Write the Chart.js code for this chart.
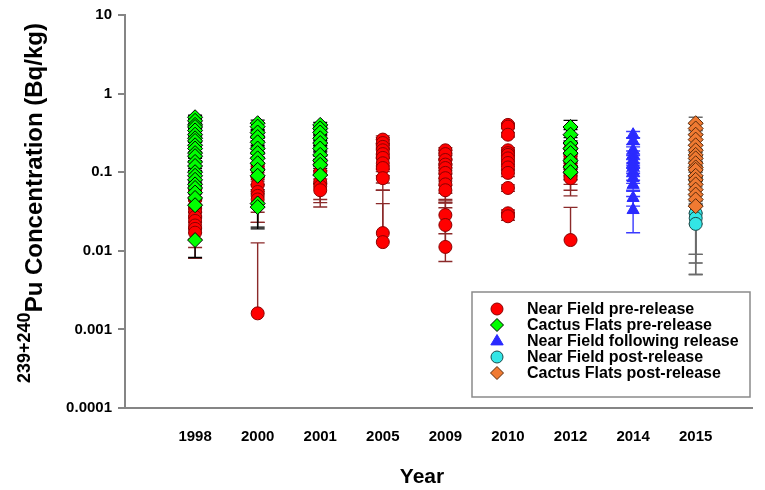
<!DOCTYPE html>
<html>
<head>
<meta charset="utf-8">
<script src="https://cdn.jsdelivr.net/npm/chart.js@4.4.0/dist/chart.umd.min.js"></script>
<style>
html, body { margin: 0; padding: 0; background: #fff; }
#wrap { width: 765px; height: 490px; position: relative; }
</style>
</head>
<body>
<div id="wrap"><canvas id="puChart" width="765" height="490"></canvas></div>
<script>
// Años (categorías del eje X)
const years = ['1998', '2000', '2001', '2005', '2009', '2010', '2012', '2014', '2015'];

// Marcas del eje Y (logarítmico)
const yTickVals = [0.0001, 0.001, 0.01, 0.1, 1, 10];
const yTickLabels = ['0.0001', '0.001', '0.01', '0.1', '1', '10'];

// Near Field pre-release
const nfPreYears = [
    '1998', '1998', '1998', '1998', '1998', '1998', '1998', '1998', '1998',
    '2000', '2000', '2000', '2000', '2000', '2000', '2000',
    '2001', '2001', '2001', '2001',
    '2005', '2005', '2005', '2005', '2005', '2005', '2005', '2005', '2005', '2005', '2005',
    '2009', '2009', '2009', '2009', '2009', '2009', '2009', '2009', '2009', '2009', '2009', '2009',
    '2010', '2010', '2010', '2010', '2010', '2010', '2010', '2010', '2010', '2010', '2010', '2010', '2010',
    '2012', '2012', '2012', '2012', '2012', '2012', '2012'
];
const nfPreVals = [
    0.06, 0.045, 0.035, 0.031, 0.027, 0.024, 0.021, 0.019, 0.017,
    0.12, 0.087, 0.069, 0.056, 0.05, 0.045, 0.0016,
    0.1, 0.075, 0.066, 0.059,
    0.26, 0.235, 0.21, 0.19, 0.17, 0.152, 0.13, 0.113, 0.084, 0.0168, 0.0129,
    0.19, 0.17, 0.143, 0.125, 0.113, 0.098, 0.084, 0.07, 0.059, 0.0285, 0.0213, 0.0112,
    0.40, 0.38, 0.30, 0.19, 0.175, 0.166, 0.15, 0.131, 0.115, 0.098, 0.063, 0.03, 0.0275,
    0.2, 0.16, 0.12, 0.1, 0.09, 0.084, 0.0137
];
const nfPreErrs = [
    0.012, 0.01, 0.008, 0.008, 0.007, 0.007, 0.007, 0.008, 0.009,
    0.03, 0.03, 0.03, 0.025, 0.027, 0.022, 0.011,
    0.03, 0.03, 0.025, 0.023,
    0.03, 0.04, 0.05, 0.04, 0.05, 0.05, 0.04, 0.04, 0.025, 0.023, 0.046,
    0.015, 0.02, 0.02, 0.02, 0.03, 0.03, 0.03, 0.025, 0.018, 0.012, 0.014, 0.032,
    0.02, 0.02, 0.02, 0.015, 0.015, 0.015, 0.012, 0.012, 0.01, 0.01, 0.006, 0.003, 0.003,
    0.04, 0.04, 0.03, 0.03, 0.04, 0.025, 0.022
];

// Cactus Flats pre-release
const cfPreYears = [
    '1998', '1998', '1998', '1998', '1998', '1998', '1998', '1998', '1998', '1998', '1998', '1998',
    '1998', '1998', '1998', '1998', '1998', '1998', '1998', '1998', '1998', '1998', '1998',
    '2000', '2000', '2000', '2000', '2000', '2000', '2000', '2000', '2000', '2000', '2000', '2000', '2000',
    '2001', '2001', '2001', '2001', '2001', '2001', '2001', '2001', '2001', '2001',
    '2012', '2012', '2012', '2012', '2012', '2012', '2012', '2012'
];
const cfPreVals = [
    0.50, 0.45, 0.40, 0.376, 0.34, 0.30, 0.27, 0.25, 0.22, 0.2, 0.175, 0.16,
    0.135, 0.12, 0.10, 0.09, 0.08, 0.07, 0.063, 0.055, 0.047, 0.038, 0.0137,
    0.42, 0.38, 0.32, 0.28, 0.24, 0.2, 0.175, 0.15, 0.13, 0.107, 0.09, 0.04, 0.036,
    0.40, 0.36, 0.32, 0.27, 0.235, 0.2, 0.166, 0.14, 0.124, 0.092,
    0.376, 0.3, 0.235, 0.2, 0.175, 0.14, 0.116, 0.1
];
const cfPreErrs = [
    0.03, 0.04, 0.04, 0.04, 0.03, 0.03, 0.03, 0.03, 0.02, 0.02, 0.02, 0.02,
    0.015, 0.015, 0.012, 0.012, 0.01, 0.01, 0.01, 0.01, 0.008, 0.007, 0.0055,
    0.04, 0.04, 0.03, 0.03, 0.03, 0.02, 0.02, 0.02, 0.02, 0.02, 0.02, 0.02, 0.017,
    0.03, 0.03, 0.03, 0.03, 0.02, 0.02, 0.02, 0.02, 0.02, 0.02,
    0.08, 0.05, 0.04, 0.03, 0.03, 0.03, 0.02, 0.02
];

// Near Field following release
const nfFolYears = ['2014', '2014', '2014', '2014', '2014', '2014', '2014', '2014', '2014', '2014', '2014', '2014'];
const nfFolVals = [0.30, 0.25, 0.19, 0.166, 0.143, 0.13, 0.116, 0.1, 0.084, 0.069, 0.047, 0.033];
const nfFolErrs = [0.03, 0.025, 0.02, 0.02, 0.02, 0.015, 0.015, 0.012, 0.012, 0.01, 0.01, 0.016];

// Near Field post-release
const nfPostYears = ['2015', '2015', '2015', '2015'];
const nfPostVals = [0.08, 0.03, 0.026, 0.022];
const nfPostErrs = [0.01, 0.023, 0.017, 0.017];

// Cactus Flats post-release
const cfPostYears = [
    '2015', '2015', '2015', '2015', '2015', '2015', '2015', '2015', '2015', '2015',
    '2015', '2015', '2015', '2015', '2015', '2015', '2015', '2015'
];
const cfPostVals = [
    0.42, 0.36, 0.30, 0.26, 0.22, 0.19, 0.166, 0.15, 0.13, 0.115,
    0.107, 0.09, 0.08, 0.07, 0.06, 0.052, 0.045, 0.037
];
const cfPostErrs = [
    0.08, 0.05, 0.04, 0.04, 0.04, 0.03, 0.03, 0.03, 0.03, 0.03,
    0.03, 0.03, 0.03, 0.03, 0.03, 0.03, 0.04, 0.028
];

const FONT = "'Liberation Sans', Arial, Helvetica, sans-serif";

// Convertir años + valores en puntos {x, y}
function toPoints(yrs, vals) {
    return vals.map((v, i) => ({ x: years.indexOf(yrs[i]), y: v }));
}

// Barras de error (dibujadas con las escalas del gráfico)
const errorBars = {
    id: 'errorBars',
    beforeDatasetsDraw(chart) {
        const ctx = chart.ctx;
        const xs = chart.scales.x, ys = chart.scales.y;
        const area = chart.chartArea;
        ctx.save();
        ctx.beginPath();
        ctx.rect(area.left, area.top - 5, area.right - area.left, area.bottom - area.top + 5);
        ctx.clip();
        chart.data.datasets.forEach(ds => {
            ctx.strokeStyle = ds.errColor;
            ctx.lineWidth = 1.4;
            ds.data.forEach((p, i) => {
                const e = ds.errs[i];
                const px = xs.getPixelForValue(p.x);
                const py = ys.getPixelForValue(p.y);
                const hi = ys.getPixelForValue(p.y + e);
                const lo = p.y - e > 0 ? ys.getPixelForValue(p.y - e) : null;
                ctx.beginPath();
                ctx.moveTo(px, hi);
                ctx.lineTo(px, lo === null ? py : lo);
                ctx.moveTo(px - 7, hi);
                ctx.lineTo(px + 7, hi);
                if (lo !== null) {
                    ctx.moveTo(px - 7, lo);
                    ctx.lineTo(px + 7, lo);
                }
                ctx.stroke();
            });
        });
        ctx.restore();
    }
};

// Dibuja un símbolo de la leyenda
function drawSymbol(ctx, style, x, y, r, fill, stroke) {
    ctx.beginPath();
    if (style === 'circle') {
        ctx.arc(x, y, r, 0, Math.PI * 2);
    } else if (style === 'rectRot') {
        ctx.moveTo(x, y - r);
        ctx.lineTo(x + r, y);
        ctx.lineTo(x, y + r);
        ctx.lineTo(x - r, y);
        ctx.closePath();
    } else {
        ctx.moveTo(x, y - r);
        ctx.lineTo(x + r * 0.95, y + r * 0.6);
        ctx.lineTo(x - r * 0.95, y + r * 0.6);
        ctx.closePath();
    }
    ctx.fillStyle = fill;
    ctx.fill();
    ctx.strokeStyle = stroke;
    ctx.lineWidth = 1;
    ctx.stroke();
}

// Títulos de ejes y leyenda dentro del área
const extras = {
    id: 'extras',
    afterDraw(chart) {
        const ctx = chart.ctx;
        ctx.save();

        // Título eje Y con superíndice
        const sup = '239+240';
        const main = 'Pu Concentration (Bq/kg)';
        ctx.font = 'bold 18px ' + FONT;
        const wSup = ctx.measureText(sup).width;
        ctx.font = 'bold 24px ' + FONT;
        const wMain = ctx.measureText(main).width;
        const total = wSup + wMain;
        ctx.translate(42, 203);
        ctx.rotate(-Math.PI / 2);
        ctx.fillStyle = '#000';
        ctx.textBaseline = 'alphabetic';
        ctx.textAlign = 'left';
        ctx.font = 'bold 18px ' + FONT;
        ctx.fillText(sup, -total / 2, -12);
        ctx.font = 'bold 24px ' + FONT;
        ctx.fillText(main, -total / 2 + wSup, 0);
        ctx.setTransform(1, 0, 0, 1, 0, 0);

        // Título eje X
        ctx.font = 'bold 21px ' + FONT;
        ctx.textAlign = 'center';
        ctx.textBaseline = 'middle';
        ctx.fillText('Year', 422, 477);

        // Leyenda
        ctx.strokeStyle = '#8a8a8a';
        ctx.lineWidth = 1.5;
        ctx.strokeRect(472, 292, 278, 105);
        ctx.font = 'bold 16px ' + FONT;
        ctx.textAlign = 'left';
        chart.data.datasets.forEach((ds, i) => {
            const y = 309 + i * 16;
            drawSymbol(ctx, ds.pointStyle, 497, y, ds.legendR, ds.backgroundColor, ds.borderColor);
            ctx.fillStyle = '#000';
            ctx.fillText(ds.label, 527, y + 1);
        });
        ctx.restore();
    }
};

const ctx = document.getElementById('puChart').getContext('2d');

new Chart(ctx, {
    type: 'scatter',
    data: {
        datasets: [
            {
                label: 'Near Field pre-release',
                data: toPoints(nfPreYears, nfPreVals),
                errs: nfPreErrs,
                errColor: '#8b2a2a',
                pointStyle: 'circle',
                pointRadius: 6.5,
                legendR: 6,
                backgroundColor: '#ff0000',
                borderColor: '#8b0000',
                borderWidth: 1,
                order: 5
            },
            {
                label: 'Cactus Flats pre-release',
                data: toPoints(cfPreYears, cfPreVals),
                errs: cfPreErrs,
                errColor: '#000000',
                pointStyle: 'rectRot',
                pointRadius: 7.5,
                legendR: 6.5,
                backgroundColor: '#00ff00',
                borderColor: '#000000',
                borderWidth: 1,
                order: 4
            },
            {
                label: 'Near Field following release',
                data: toPoints(nfFolYears, nfFolVals),
                errs: nfFolErrs,
                errColor: '#3a3aff',
                pointStyle: 'triangle',
                pointRadius: 7,
                legendR: 6.5,
                backgroundColor: '#2a2aff',
                borderColor: '#2a2aff',
                borderWidth: 1,
                order: 3
            },
            {
                label: 'Near Field post-release',
                data: toPoints(nfPostYears, nfPostVals),
                errs: nfPostErrs,
                errColor: '#555555',
                pointStyle: 'circle',
                pointRadius: 6.5,
                legendR: 6,
                backgroundColor: '#33e6e6',
                borderColor: '#1a4a4a',
                borderWidth: 1,
                order: 2
            },
            {
                label: 'Cactus Flats post-release',
                data: toPoints(cfPostYears, cfPostVals),
                errs: cfPostErrs,
                errColor: '#6a6a6a',
                pointStyle: 'rectRot',
                pointRadius: 7.5,
                legendR: 6.5,
                backgroundColor: '#f07a32',
                borderColor: '#5a2a0a',
                borderWidth: 1,
                order: 1
            }
        ]
    },
    options: {
        responsive: false,
        animation: false,
        events: [],
        layout: { padding: { top: 15, right: 13, left: 0, bottom: 0 } },
        plugins: {
            legend: { display: false },
            tooltip: { enabled: false }
        },
        scales: {
            x: {
                type: 'linear',
                min: -1.12,
                max: 8.9,
                afterBuildTicks: s => { s.ticks = years.map((y, i) => ({ value: i })); },
                afterFit: s => { s.height = 82; },
                ticks: {
                    callback: v => years[v],
                    autoSkip: false,
                    maxRotation: 0,
                    padding: 20,
                    color: '#000',
                    font: { family: FONT, size: 15, weight: 'bold' }
                },
                grid: { display: true, drawOnChartArea: false, drawTicks: false },
                border: { display: true, color: '#858585', width: 2 }
            },
            y: {
                type: 'logarithmic',
                min: 0.0001,
                max: 10,
                afterBuildTicks: s => { s.ticks = yTickVals.map(v => ({ value: v })); },
                afterFit: s => { s.width = 125; },
                ticks: {
                    callback: (v, i) => yTickLabels[i],
                    autoSkip: false,
                    padding: 6,
                    color: '#000',
                    font: { family: FONT, size: 15, weight: 'bold' }
                },
                grid: { display: true, drawOnChartArea: false, drawTicks: true, tickLength: 7, color: '#858585', lineWidth: 2 },
                border: { display: true, color: '#858585', width: 2 }
            }
        }
    },
    plugins: [errorBars, extras]
});
</script>
</body>
</html>
